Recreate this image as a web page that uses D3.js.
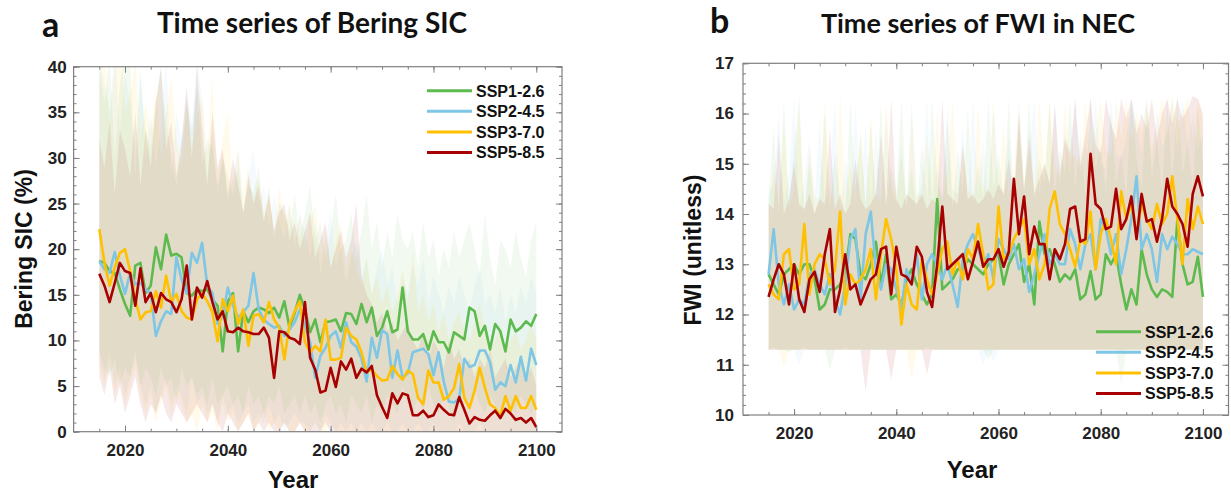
<!DOCTYPE html>
<html>
<head>
<meta charset="utf-8">
<script src="https://cdn.jsdelivr.net/npm/d3@7"></script>
<style>
  body { margin: 0; background: #fff; }
  svg text { font-family: "Liberation Sans", Arial, sans-serif; }
  svg text.calibri { font-family: Lato, "Open Sans", sans-serif; }
</style>
</head>
<body>
<svg id="chart" width="1231" height="493"></svg>
<script>
// categories
const years = d3.range(2015, 2101);
const scenarios = ["SSP1-2.6", "SSP2-4.5", "SSP3-7.0", "SSP5-8.5"];
const colors = ["#5cba4e", "#7dc6e6", "#ffc000", "#a80000"];

// ---- panel a : Bering SIC (%) multi-model means ----
const sicMean126 = [18.7, 18.5, 17.6, 17.4, 15.6, 14.0, 12.7, 18.2, 18.5, 15.2,
  16.0, 20.2, 17.8, 21.6, 19.3, 19.5, 19.1, 15.2, 14.9, 15.6,
  15.4, 15.6, 14.5, 13.8, 8.8, 14.3, 15.2, 8.8, 13.2, 12.0,
  13.2, 13.6, 13.4, 13.0, 13.6, 12.5, 14.3, 11.4, 13.0, 15.0,
  13.4, 10.9, 12.3, 9.8, 12.0, 12.1, 12.3, 11.0, 13.0, 12.9,
  11.8, 14.0, 12.0, 13.6, 10.5, 11.4, 13.2, 10.9, 11.2, 15.8,
  11.0, 10.1, 10.1, 10.7, 9.0, 11.0, 9.8, 9.8, 8.7, 10.9,
  10.5, 10.1, 13.6, 13.2, 10.5, 11.6, 9.0, 11.8, 11.0, 8.8,
  12.3, 11.0, 11.4, 12.1, 11.6, 12.9];
const sicMean245 = [18.7, 17.8, 17.4, 19.7, 17.1, 15.1, 17.4, 16.2, 16.3, 15.6,
  15.2, 10.5, 12.1, 13.2, 12.9, 19.1, 16.7, 15.2, 19.6, 18.5,
  20.7, 16.0, 15.2, 11.8, 12.7, 15.8, 13.8, 12.5, 13.1, 13.8,
  17.4, 13.4, 12.3, 11.8, 11.4, 11.6, 10.5, 11.2, 12.0, 13.4,
  11.6, 9.8, 5.9, 8.3, 9.2, 10.5, 11.0, 9.2, 12.0, 9.8,
  9.3, 8.0, 5.5, 10.3, 8.1, 11.1, 10.7, 5.9, 8.9, 5.9,
  6.4, 8.7, 8.9, 9.1, 8.5, 6.2, 8.7, 5.5, 3.3, 3.2,
  3.6, 8.0, 7.1, 7.3, 8.9, 8.9, 7.6, 4.6, 5.4, 5.0,
  7.3, 5.4, 8.2, 5.6, 9.1, 7.3];
const sicMean370 = [22.2, 18.5, 16.0, 18.0, 19.6, 20.0, 17.6, 14.5, 12.3, 13.1,
  13.2, 15.4, 13.6, 17.1, 14.2, 15.1, 13.2, 12.5, 12.3, 14.5,
  15.2, 14.3, 13.1, 9.9, 14.5, 13.2, 14.9, 11.8, 13.4, 9.4,
  12.7, 12.9, 12.0, 14.2, 12.3, 11.4, 7.9, 11.8, 13.2, 14.3,
  9.8, 8.7, 9.4, 8.8, 12.3, 7.9, 7.9, 8.1, 11.4, 10.5,
  10.1, 8.7, 6.5, 6.8, 6.1, 5.6, 5.7, 7.2, 6.3, 5.7,
  6.7, 6.3, 3.7, 3.0, 6.7, 5.4, 5.4, 3.5, 3.9, 4.8,
  7.4, 3.7, 2.6, 4.5, 7.0, 4.8, 3.0, 2.6, 1.7, 3.9,
  2.3, 3.9, 2.6, 2.6, 3.9, 2.4];
const sicMean585 = [17.3, 16.0, 14.2, 16.3, 18.5, 17.6, 17.4, 13.8, 17.9, 14.2,
  15.2, 13.1, 15.2, 14.5, 14.2, 13.1, 14.5, 18.2, 12.3, 15.8,
  14.7, 16.5, 14.2, 12.3, 13.2, 11.0, 10.9, 11.4, 11.0, 10.9,
  10.7, 10.7, 11.4, 10.3, 5.9, 11.0, 10.9, 10.3, 10.1, 9.6,
  14.2, 8.1, 6.8, 4.3, 4.5, 7.0, 4.9, 7.7, 6.8, 8.0,
  5.9, 6.9, 6.5, 7.2, 4.0, 2.7, 1.5, 4.2, 3.1, 4.2,
  4.0, 1.8, 1.8, 2.3, 1.6, 1.8, 3.0, 2.4, 1.9, 1.8,
  3.8, 2.4, 0.9, 1.6, 1.3, 1.2, 1.8, 2.3, 1.5, 2.5,
  2.0, 1.3, 1.5, 1.0, 1.5, 0.5];

// model spread (upper / lower) for panel a
const sicUpper126 = [40, 36, 41, 30, 38, 42, 40, 28, 39, 33,
  31, 36, 40, 34, 30, 27, 31, 36, 33, 38,
  29, 32, 31, 27, 30, 28, 26, 29, 24, 27,
  26, 29, 23, 27, 21, 25, 24, 22, 26, 21,
  24, 27, 21, 23, 19, 22, 26, 20, 21, 24,
  19, 22, 26, 20, 23, 18, 22, 19, 24, 21,
  20, 22, 18, 23, 19, 21, 17, 20, 18, 22,
  19, 21, 23, 20, 17, 24, 19, 16, 21, 20,
  18, 22, 19, 17, 21, 23];
const sicLower126 = [9, 7, 6, 8, 5, 7, 6, 9, 5, 7,
  6, 4, 7, 5, 6, 3, 7, 5, 6, 4,
  5, 3, 6, 3, 4, 5, 3, 4, 2, 5,
  3, 4, 2, 4, 3, 5, 2, 3, 4, 2,
  4, 2, 3, 1, 3, 4, 2, 3, 1, 4,
  3, 2, 4, 1, 3, 2, 4, 3, 2, 5,
  3, 2, 4, 2, 5, 3, 2, 4, 3, 1,
  3, 4, 2, 5, 3, 2, 4, 3, 2, 4,
  3, 2, 4, 3, 2, 3];
const sicUpper245 = [41, 38, 35, 42, 33, 39, 36, 31, 40, 30,
  35, 29, 33, 41, 28, 35, 32, 37, 34, 41,
  36, 28, 33, 26, 30, 25, 28, 31, 24, 28,
  31, 25, 27, 22, 26, 23, 21, 25, 20, 24,
  22, 19, 23, 17, 21, 24, 18, 20, 16, 19,
  21, 17, 19, 15, 18, 20, 16, 18, 14, 17,
  15, 18, 16, 19, 14, 17, 15, 13, 16, 14,
  17, 15, 13, 16, 18, 14, 15, 13, 16, 12,
  15, 13, 16, 14, 17, 15];
const sicLower245 = [8, 6, 9, 5, 7, 4, 6, 8, 5, 3,
  5, 2, 4, 6, 3, 5, 4, 2, 6, 3,
  4, 2, 3, 1, 4, 2, 3, 1, 2, 3,
  1, 2, 1, 3, 1, 2, 0, 1, 2, 1,
  1, 0, 1, 0, 2, 1, 0, 1, 0, 1,
  0, 1, 0, 1, 0, 0, 1, 0, 0, 1,
  0, 0, 1, 0, 0, 1, 0, 0, 0, 0,
  1, 0, 0, 0, 1, 0, 0, 0, 0, 0,
  0, 0, 0, 0, 0, 0];
const sicUpper370 = [38, 43, 34, 40, 44, 35, 37, 41, 32, 36,
  33, 38, 30, 35, 39, 32, 29, 36, 31, 34,
  37, 30, 39, 28, 32, 35, 27, 31, 26, 29,
  25, 28, 24, 26, 22, 27, 23, 25, 21, 24,
  20, 23, 25, 19, 22, 18, 21, 23, 17, 20,
  18, 16, 19, 15, 17, 14, 16, 13, 15, 18,
  14, 20, 13, 15, 12, 14, 11, 13, 10, 12,
  13, 11, 10, 12, 14, 11, 9, 10, 12, 9,
  10, 11, 9, 10, 12, 10];
const sicLower370 = [7, 5, 8, 4, 6, 3, 5, 7, 4, 2,
  4, 1, 3, 5, 2, 4, 3, 1, 2, 0,
  3, 1, 2, 0, 3, 1, 2, 0, 1, 2,
  0, 1, 2, 0, 1, 0, 1, 0, 0, 1,
  0, 0, 1, 0, 0, 1, 0, 0, 0, 0,
  0, 0, 0, 0, 0, 0, 0, 0, 0, 0,
  0, 0, 0, 0, 0, 0, 0, 0, 0, 0,
  0, 0, 0, 0, 0, 0, 0, 0, 0, 0,
  0, 0, 0, 0, 0, 0];
const sicUpper585 = [32, 29, 34, 26, 33, 31, 28, 35, 27, 33,
  29, 36, 40, 31, 34, 28, 32, 38, 30, 40,
  33, 27, 35, 29, 31, 26, 30, 27, 24, 28,
  25, 27, 23, 26, 22, 24, 25, 21, 23, 20,
  22, 24, 19, 21, 23, 18, 20, 22, 19, 21,
  25, 17, 15, 14, 12, 13, 11, 12, 10, 11,
  12, 10, 9, 11, 8, 10, 9, 7, 10, 8,
  9, 7, 8, 6, 8, 7, 9, 6, 7, 8,
  6, 7, 8, 6, 7, 5];
const sicLower585 = [6, 4, 7, 3, 5, 2, 4, 6, 3, 1,
  3, 2, 4, 2, 1, 3, 2, 1, 2, 3,
  2, 1, 3, 1, 0, 2, 1, 0, 1, 2,
  0, 1, 0, 1, 0, 0, 1, 0, 0, 1,
  0, 0, 0, 0, 1, 0, 0, 0, 0, 0,
  0, 0, 0, 0, 0, 0, 0, 0, 0, 0,
  0, 0, 0, 0, 0, 0, 0, 0, 0, 0,
  0, 0, 0, 0, 0, 0, 0, 0, 0, 0,
  0, 0, 0, 0, 0, 0];

// ---- panel b : FWI in NEC (unitless) multi-model means ----
const fwiMean126 = [12.8, 12.6, 12.4, 12.8, 12.9, 13.0, 12.8, 13.0, 13.0, 12.7,
  12.1, 12.2, 12.5, 12.5, 12.6, 12.8, 13.6, 13.5, 12.8, 12.7,
  13.0, 13.45, 12.6, 13.2, 12.3, 12.4, 12.2, 12.7, 12.9, 12.6,
  12.4, 12.2, 12.4, 14.3, 12.5, 12.6, 12.7, 12.9, 12.9, 13.1,
  13.0, 12.9, 12.8, 13.0, 13.1, 13.2, 12.6, 13.0, 13.2, 13.4,
  12.65, 13.0, 12.2, 13.85, 13.2, 13.3, 13.0, 12.65, 12.8, 12.7,
  12.9, 12.3, 12.4, 12.86, 12.3, 12.4, 13.2, 13.0, 13.2, 12.6,
  12.1, 12.5, 12.2, 13.3, 12.8, 12.5, 12.35, 12.5, 12.45, 12.35,
  13.9, 13.0, 12.6, 12.65, 13.15, 12.35];
const fwiMean245 = [12.8, 13.7, 12.6, 12.2, 12.6, 12.1, 12.3, 12.2, 12.8, 12.9,
  12.6, 12.4, 12.8, 12.3, 12.0, 12.6, 13.5, 13.7, 12.3, 13.6,
  14.05, 12.9, 12.5, 13.0, 12.9, 12.5, 12.1, 12.9, 12.6, 13.2,
  12.3, 13.0, 13.2, 13.0, 12.7, 13.0, 12.6, 12.15, 13.1, 13.4,
  13.6, 13.3, 13.0, 13.2, 12.7, 13.5, 13.3, 13.1, 13.4, 12.9,
  13.1, 12.45, 12.8, 13.2, 13.6, 13.0, 13.2, 13.0, 13.0, 13.7,
  13.4, 12.9, 13.4, 13.6, 12.9, 13.9, 13.7, 13.2, 13.6, 12.8,
  13.3, 13.9, 14.75, 13.3, 13.6, 13.3, 12.65, 13.6, 13.3, 13.55,
  13.4, 13.2, 13.2, 13.3, 13.25, 13.2];
const fwiMean370 = [12.6, 12.4, 12.3, 13.2, 13.3, 12.5, 12.6, 13.8, 12.4, 13.0,
  13.2, 13.1, 12.6, 12.9, 14.05, 12.2, 12.8, 12.6, 12.7, 12.9,
  13.3, 12.3, 13.2, 13.9, 13.5, 12.9, 11.8, 12.6, 12.2, 12.1,
  13.1, 12.7, 12.4, 12.8, 13.3, 13.45, 12.8, 13.1, 12.7, 13.3,
  13.1, 13.8, 13.2, 12.5, 12.6, 14.15, 13.1, 13.2, 13.5, 13.7,
  13.9, 13.0, 13.3, 12.7, 13.0, 14.1, 14.45, 13.8, 13.6, 13.3,
  12.95, 13.5, 13.4, 14.05, 12.9, 13.6, 13.9, 13.5, 13.0, 14.45,
  13.9, 14.2, 13.6, 14.2, 13.9, 13.7, 14.2, 13.8, 14.0, 14.75,
  13.9, 13.0, 14.3, 13.7, 14.15, 13.8];
const fwiMean585 = [12.35, 12.7, 13.0, 12.8, 12.2, 13.0, 12.3, 12.05, 12.7, 12.85,
  12.45, 13.2, 13.7, 12.05, 12.5, 13.2, 12.5, 12.6, 12.2, 12.45,
  12.7, 12.8, 13.3, 13.35, 12.4, 13.35, 12.8, 12.75, 12.6, 13.35,
  13.15, 12.45, 12.15, 13.0, 14.15, 12.9, 13.0, 13.1, 13.2, 12.7,
  13.05, 13.45, 12.95, 13.1, 13.1, 13.3, 12.95, 13.25, 14.7, 13.6,
  14.35, 13.2, 13.75, 13.4, 13.4, 12.7, 13.3, 13.1, 13.4, 14.1,
  14.15, 13.45, 13.5, 15.2, 14.2, 14.1, 13.7, 13.75, 14.5, 13.7,
  13.9, 14.35, 13.5, 14.4, 13.85, 13.9, 13.45, 13.9, 14.7, 14.15,
  14.0, 13.8, 13.35, 14.4, 14.75, 14.35];

// model spread (upper / lower) for panel b
const fwiUpper126 = [14.3, 15.7, 14.0, 16.3, 14.2, 15.3, 16.35, 14.1, 15.0, 14.0,
  14.4, 16.0, 14.1, 15.2, 14.3, 14.0, 16.3, 14.5, 15.6, 14.2,
  15.8, 14.3, 16.2, 14.1, 15.0, 14.4, 16.3, 14.2, 14.9, 14.1,
  15.4, 14.2, 16.3, 14.6, 14.3, 15.9, 14.1, 15.3, 14.4, 16.1,
  14.2, 15.0, 14.3, 16.3, 14.5, 15.2, 14.3, 16.3, 14.2, 15.7,
  14.4, 16.3, 14.3, 15.1, 14.6, 16.2, 14.4, 15.3, 14.8, 16.3,
  14.5, 15.6, 14.3, 16.3, 14.9, 15.4, 14.4, 16.0, 14.6, 15.2,
  14.3, 16.3, 15.1, 14.5, 16.2, 14.7, 15.5, 14.4, 16.3, 14.6,
  16.35, 14.8, 15.4, 14.5, 16.1, 15.0];
const fwiLower126 = [11.3, 11.35, 11.3, 11.3, 11.25, 11.3, 11.3, 11.35, 11.3, 11.3,
  11.3, 11.3, 10.9, 11.3, 11.3, 11.35, 11.3, 11.3, 11.3, 11.3,
  11.3, 11.3, 11.3, 11.3, 11.3, 11.3, 11.3, 11.3, 11.3, 11.3,
  11.3, 11.35, 11.3, 11.3, 11.3, 11.3, 11.3, 11.3, 11.3, 11.3,
  11.3, 11.3, 11.3, 11.1, 11.3, 11.3, 11.3, 11.3, 11.3, 11.3,
  11.3, 11.3, 11.3, 11.3, 11.3, 11.3, 11.3, 11.3, 11.3, 11.3,
  11.3, 11.3, 11.3, 11.3, 11.3, 11.3, 11.3, 11.3, 11.3, 10.6,
  11.3, 11.3, 11.3, 11.3, 11.3, 11.3, 11.3, 11.3, 11.3, 11.3,
  11.3, 11.3, 11.3, 11.3, 11.3, 11.3];
const fwiUpper245 = [14.4, 14.6, 16.0, 14.2, 14.8, 16.3, 14.1, 14.7, 15.5, 14.3,
  15.9, 14.2, 14.6, 16.3, 14.0, 15.1, 14.3, 16.2, 14.4, 15.8,
  14.2, 15.7, 14.3, 16.0, 14.5, 14.2, 15.4, 14.1, 16.3, 14.3,
  14.6, 16.3, 14.2, 15.0, 14.3, 16.2, 14.5, 14.4, 15.8, 14.2,
  16.3, 14.4, 15.5, 14.3, 16.1, 14.6, 14.4, 15.6, 14.2, 16.3,
  14.5, 15.2, 16.3, 14.4, 15.0, 14.6, 16.2, 14.5, 15.7, 14.7,
  16.3, 14.8, 15.4, 14.9, 16.3, 15.0, 14.9, 16.3, 15.2, 15.1,
  15.5, 16.3, 15.8, 15.2, 16.3, 15.0, 16.1, 15.3, 15.6, 16.3,
  15.2, 16.3, 15.4, 16.0, 15.3, 15.6];
const fwiLower245 = [11.3, 11.3, 11.3, 11.3, 11.3, 11.3, 11.0, 11.3, 11.3, 11.3,
  11.3, 11.3, 11.3, 11.3, 11.3, 11.3, 11.3, 11.3, 11.3, 11.3,
  11.3, 11.3, 11.3, 11.3, 11.3, 11.3, 11.3, 11.3, 11.3, 11.3,
  11.3, 11.3, 11.3, 11.3, 11.3, 11.3, 11.3, 11.3, 11.3, 11.3,
  11.3, 11.3, 11.0, 11.3, 11.05, 11.3, 11.3, 11.3, 11.3, 11.3,
  11.3, 11.3, 11.3, 11.3, 11.3, 11.3, 11.3, 11.3, 11.3, 11.3,
  11.3, 11.3, 11.3, 11.3, 11.3, 11.3, 11.3, 11.3, 11.3, 11.3,
  11.3, 11.3, 11.3, 11.3, 11.3, 11.3, 11.3, 11.3, 11.3, 11.3,
  11.3, 11.3, 11.3, 11.3, 11.3, 11.3];
const fwiUpper370 = [14.0, 14.9, 14.2, 15.8, 14.1, 14.5, 16.1, 14.0, 15.3, 14.4,
  14.2, 16.3, 14.5, 14.1, 16.4, 14.3, 15.0, 14.2, 15.7, 14.0,
  16.0, 14.4, 14.2, 16.3, 14.6, 14.3, 15.2, 14.1, 16.0, 14.4,
  14.3, 15.6, 14.4, 16.1, 14.2, 14.9, 16.3, 14.3, 15.3, 14.5,
  14.3, 16.2, 14.6, 14.4, 16.3, 14.5, 15.8, 14.3, 14.9, 16.1,
  14.6, 15.3, 14.5, 16.3, 14.8, 16.3, 15.0, 14.7, 16.2, 15.1,
  15.2, 14.9, 16.3, 15.0, 15.6, 16.3, 15.3, 15.1, 16.3, 15.5,
  16.3, 15.4, 16.0, 15.6, 16.3, 15.3, 15.8, 16.3, 15.6, 16.35,
  15.8, 16.0, 16.3, 15.5, 16.3, 15.9];
const fwiLower370 = [11.3, 11.3, 11.3, 10.95, 11.3, 11.3, 11.3, 11.3, 11.3, 11.3,
  11.3, 11.3, 11.3, 11.3, 11.3, 11.3, 11.3, 11.3, 11.3, 11.3,
  11.3, 11.3, 11.3, 11.3, 11.3, 11.3, 11.3, 11.3, 10.7, 11.3,
  11.3, 11.3, 11.3, 11.3, 11.3, 11.3, 11.3, 11.3, 11.3, 11.3,
  11.3, 11.3, 11.3, 11.3, 11.3, 11.3, 11.3, 11.3, 11.3, 11.3,
  11.3, 11.3, 11.3, 11.3, 11.3, 11.3, 11.3, 11.3, 11.3, 11.3,
  11.3, 11.3, 11.3, 11.3, 11.3, 11.3, 11.3, 11.3, 11.3, 11.3,
  11.3, 11.3, 11.3, 11.3, 11.3, 11.3, 11.3, 11.3, 11.3, 11.3,
  11.3, 11.3, 11.3, 11.3, 11.3, 11.3];
const fwiUpper585 = [14.2, 14.1, 15.6, 14.0, 14.3, 15.0, 14.2, 14.1, 14.4, 14.0,
  14.3, 14.2, 15.7, 14.1, 14.4, 14.0, 14.2, 15.1, 14.3, 14.1,
  14.2, 14.4, 15.6, 14.2, 16.3, 14.3, 14.1, 14.4, 14.3, 14.2,
  14.4, 14.1, 14.3, 14.2, 16.3, 14.4, 14.3, 14.2, 15.4, 14.3,
  14.4, 14.2, 14.3, 14.5, 14.3, 14.6, 14.4, 15.1, 14.3, 16.0,
  14.5, 15.6, 14.4, 14.7, 15.0, 14.6, 16.2, 14.8, 15.5, 15.2,
  16.3, 15.0, 15.6, 16.3, 15.4, 15.2, 16.3, 15.8, 15.5, 16.3,
  15.9, 16.3, 15.6, 16.0, 15.7, 16.3, 15.5, 16.0, 16.3, 15.8,
  16.3, 15.9, 16.1, 16.35, 16.3, 16.0];
const fwiLower585 = [11.3, 11.3, 11.3, 11.3, 11.3, 11.3, 11.3, 11.3, 11.3, 11.3,
  11.3, 11.3, 11.3, 11.3, 11.3, 11.3, 11.3, 11.3, 11.3, 10.45,
  11.3, 11.3, 11.3, 11.3, 10.7, 11.3, 11.3, 11.3, 11.3, 11.3,
  11.3, 10.8, 11.3, 11.3, 11.3, 11.3, 11.3, 11.3, 11.3, 11.3,
  11.3, 11.3, 11.3, 11.3, 11.3, 11.3, 11.3, 11.3, 11.3, 11.3,
  11.3, 11.3, 11.3, 11.3, 11.3, 11.3, 11.3, 11.3, 11.3, 11.3,
  11.3, 11.3, 11.3, 11.3, 11.3, 11.3, 11.3, 11.3, 11.3, 11.3,
  11.3, 11.3, 11.3, 11.3, 11.3, 11.3, 11.3, 11.3, 11.3, 11.3,
  11.3, 11.3, 11.3, 11.3, 11.3, 11.3];

// tick values
const xMajor = [2020, 2040, 2060, 2080, 2100];
const xMinor = d3.range(2015, 2101, 5);
const sicTicks = [0, 5, 10, 15, 20, 25, 30, 35, 40];
const fwiTicks = [10, 11, 12, 13, 14, 15, 16, 17];

const svg = d3.select("#chart");
const axisGrey = "#7f7f7f";

// draw one panel inside the given box
function drawPanel(p) {
	let x = d3.scaleLinear().domain([2010, 2105]).range([p.left, p.right]);
	let y = d3.scaleLinear().domain(p.yDomain).range([p.bottom, p.top]);

	svg.append("clipPath").attr("id", "clip-" + p.id)
		.append("rect")
		.attr("x", p.left).attr("y", p.top)
		.attr("width", p.right - p.left).attr("height", p.bottom - p.top);

	let g = svg.append("g");

	// shaded model ranges, one per scenario
	let band = d3.area()
		.x(d => x(d.year))
		.y0(d => y(d.lo))
		.y1(d => y(d.hi));
	p.series.forEach(function(s, k) {
		let rows = years.map((yr, i) => ({ year: yr, lo: s.lower[i], hi: s.upper[i] }));
		g.append("path")
			.datum(rows)
			.attr("clip-path", "url(#clip-" + p.id + ")")
			.attr("fill", colors[k])
			.attr("fill-opacity", 0.085)
			.attr("d", band);
	});

	// ensemble mean lines
	let line = d3.line()
		.x((d, i) => x(years[i]))
		.y(d => y(d));
	p.series.forEach(function(s, k) {
		g.append("path")
			.datum(s.mean)
			.attr("fill", "none")
			.attr("stroke", colors[k])
			.attr("stroke-width", 2.6)
			.attr("stroke-linejoin", "round")
			.attr("d", line);
	});

	// box
	g.append("rect")
		.attr("x", p.left).attr("y", p.top)
		.attr("width", p.right - p.left).attr("height", p.bottom - p.top)
		.attr("fill", "none")
		.attr("stroke", axisGrey)
		.attr("stroke-width", 1.2);

	// inward ticks on all four sides (MATLAB style)
	function addAxis(axis, tx, ty) {
		let a = g.append("g")
			.attr("transform", "translate(" + tx + "," + ty + ")")
			.call(axis);
		a.select(".domain").remove();
		a.selectAll(".tick line").attr("stroke", axisGrey);
		a.selectAll("text")
			.attr("font-size", 17)
			.attr("font-weight", "bold")
			.attr("fill", "#222");
		return a;
	}
	addAxis(d3.axisBottom(x).tickValues(xMinor).tickSize(-3).tickSizeOuter(0).tickFormat(""), 0, p.bottom);
	addAxis(d3.axisTop(x).tickValues(xMinor).tickSize(-3).tickSizeOuter(0).tickFormat(""), 0, p.top);
	addAxis(d3.axisBottom(x).tickValues(xMajor).tickSize(-6).tickSizeOuter(0).tickPadding(12).tickFormat(d3.format("d")), 0, p.bottom);
	addAxis(d3.axisTop(x).tickValues(xMajor).tickSize(-6).tickSizeOuter(0).tickFormat(""), 0, p.top);
	addAxis(d3.axisLeft(y).tickValues(p.yMinor).tickSize(-3).tickSizeOuter(0).tickFormat(""), p.left, 0);
	addAxis(d3.axisRight(y).tickValues(p.yMinor).tickSize(-3).tickSizeOuter(0).tickFormat(""), p.right, 0);
	addAxis(d3.axisLeft(y).tickValues(p.yMajor).tickSize(-6).tickSizeOuter(0).tickPadding(p.yPad).tickFormat(d3.format("d")), p.left, 0);
	addAxis(d3.axisRight(y).tickValues(p.yMajor).tickSize(-6).tickSizeOuter(0).tickFormat(""), p.right, 0);

	// axis titles
	svg.append("text")
		.attr("x", p.xTitle[0]).attr("y", p.xTitle[1])
		.attr("text-anchor", "middle")
		.attr("font-size", 24).attr("font-weight", "bold").attr("fill", "#111")
		.text("Year");
	svg.append("text")
		.attr("transform", "translate(" + p.yTitle[0] + "," + p.yTitle[1] + ") rotate(-90)")
		.attr("text-anchor", "middle")
		.attr("font-size", 23).attr("font-weight", "bold").attr("fill", "#111")
		.text(p.yLabel);

	// panel letter and title (Calibri-like face)
	svg.append("text")
		.attr("class", "calibri")
		.attr("x", p.letterPos[0]).attr("y", p.letterPos[1])
		.attr("font-size", 34).attr("font-weight", "bold").attr("fill", "#111")
		.text(p.letter);
	svg.append("text")
		.attr("class", "calibri")
		.attr("x", p.titlePos[0]).attr("y", p.titlePos[1])
		.attr("text-anchor", "middle")
		.attr("font-size", p.titleSize).attr("font-weight", "bold").attr("fill", "#111")
		.text(p.title);

	// legend
	let leg = g.append("g").selectAll("g")
		.data(scenarios)
		.enter().append("g")
		.attr("transform", (d, i) => "translate(" + p.legend[0] + "," + (p.legend[1] + i * 20.6) + ")");
	leg.append("line")
		.attr("x1", 0).attr("x2", 45)
		.attr("stroke", (d, i) => colors[i])
		.attr("stroke-width", 3);
	leg.append("text")
		.attr("x", 49).attr("y", 5.8)
		.attr("font-size", 16).attr("font-weight", "bold").attr("fill", "#111")
		.text(d => d);
}

drawPanel({
	id: "a",
	left: 73.6, right: 562, top: 66.7, bottom: 431.7,
	yDomain: [0, 40], yMajor: sicTicks, yMinor: d3.range(0, 41, 1), yPad: 7,
	series: [
		{ mean: sicMean126, upper: sicUpper126, lower: sicLower126 },
		{ mean: sicMean245, upper: sicUpper245, lower: sicLower245 },
		{ mean: sicMean370, upper: sicUpper370, lower: sicLower370 },
		{ mean: sicMean585, upper: sicUpper585, lower: sicLower585 }
	],
	yLabel: "Bering SIC (%)", yTitle: [32, 249],
	xTitle: [293, 488],
	letter: "a", letterPos: [42, 37],
	title: "Time series of Bering SIC", titlePos: [312, 33], titleSize: 28,
	legend: [427, 90.7]
});

drawPanel({
	id: "b",
	left: 743, right: 1228.5, top: 63.3, bottom: 415,
	yDomain: [10, 17], yMajor: fwiTicks, yMinor: d3.range(100, 171, 2).map(v => v / 10), yPad: 9,
	series: [
		{ mean: fwiMean126, upper: fwiUpper126, lower: fwiLower126 },
		{ mean: fwiMean245, upper: fwiUpper245, lower: fwiLower245 },
		{ mean: fwiMean370, upper: fwiUpper370, lower: fwiLower370 },
		{ mean: fwiMean585, upper: fwiUpper585, lower: fwiLower585 }
	],
	yLabel: "FWI (unitless)", yTitle: [701, 250],
	xTitle: [972, 478],
	letter: "b", letterPos: [710, 33],
	title: "Time series of FWI in NEC", titlePos: [978, 33], titleSize: 27,
	legend: [1096, 331.7]
});
</script>
</body>
</html>
